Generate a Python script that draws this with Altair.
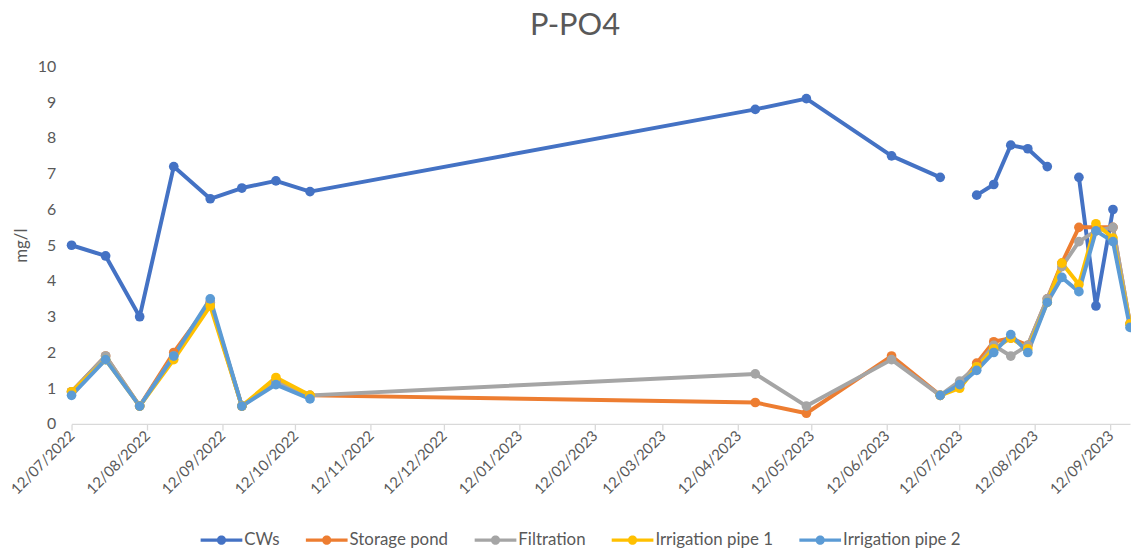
import altair as alt
import pandas as pd

DATES = [
    "2022-07-12", "2022-07-26", "2022-08-09", "2022-08-23", "2022-09-07",
    "2022-09-20", "2022-10-04", "2022-10-18", "2023-04-19", "2023-05-10",
    "2023-06-14", "2023-07-04", "2023-07-12", "2023-07-19", "2023-07-26",
    "2023-08-02", "2023-08-09", "2023-08-17", "2023-08-23", "2023-08-30",
    "2023-09-06", "2023-09-13", "2023-09-20",
]

SERIES = ["CWs", "Storage pond", "Filtration", "Irrigation pipe 1", "Irrigation pipe 2"]
COLORS = ["#4472C4", "#ED7D31", "#A5A5A5", "#FFC000", "#5B9BD5"]

CWS = [5.0, 4.7, 3.0, 7.2, 6.3, 6.6, 6.8, 6.5, 8.8, 9.1, 7.5, 6.9, None,
       6.4, 6.7, 7.8, 7.7, 7.2, None, 6.9, 3.3, 6.0, None]
STORAGE_POND = [0.9, 1.9, 0.5, 2.0, 3.4, 0.5, 1.2, 0.8, 0.6, 0.3, 1.9, 0.8, 1.1,
                1.7, 2.3, 2.4, 2.2, 3.5, 4.5, 5.5, 5.5, 5.5, 2.8]
FILTRATION = [0.9, 1.9, 0.5, 1.9, 3.4, 0.5, 1.2, 0.8, 1.4, 0.5, 1.8, 0.8, 1.2,
              1.6, 2.2, 1.9, 2.2, 3.5, 4.4, 5.1, 5.4, 5.5, 2.8]
IRRIGATION_PIPE_1 = [0.9, 1.8, 0.5, 1.8, 3.3, 0.5, 1.3, 0.8, None, None, None, 0.8, 1.0,
                     1.6, 2.1, 2.4, 2.1, 3.4, 4.5, 3.9, 5.6, 5.2, 2.8]
IRRIGATION_PIPE_2 = [0.8, 1.8, 0.5, 1.9, 3.5, 0.5, 1.1, 0.7, None, None, None, 0.8, 1.1,
                     1.5, 2.0, 2.5, 2.0, 3.4, 4.1, 3.7, 5.4, 5.1, 2.7]

TICK_DATES = [
    "2022-07-12", "2022-08-12", "2022-09-12", "2022-10-12", "2022-11-12",
    "2022-12-12", "2023-01-12", "2023-02-12", "2023-03-12", "2023-04-12",
    "2023-05-12", "2023-06-12", "2023-07-12", "2023-08-12", "2023-09-12",
]
X_DOMAIN = ["2022-07-12", "2023-09-20"]
Y_TICKS = [0, 1, 2, 3, 4, 5, 6, 7, 8, 9, 10]

FONT = "Lato"
TEXT_COLOR = "#595959"


def to_dt(s):
    y, m, d = (int(p) for p in s.split("-"))
    return alt.DateTime(year=y, month=m, date=d, utc=True)


rows = []
for k, (name, vals) in enumerate(zip(SERIES, [CWS, STORAGE_POND, FILTRATION,
                                               IRRIGATION_PIPE_1, IRRIGATION_PIPE_2])):
    for d, v in zip(DATES, vals):
        rows.append({"date": d, "value": v, "series": name, "line_series": name, "k": k})
df = pd.DataFrame(rows)

legend_symbol = ("M-1,-0.08L1,-0.08L1,0.08L-1,0.08Z "
                 "M0.22,0A0.22,0.22,0,1,1,-0.22,0A0.22,0.22,0,1,1,0.22,0Z")

x_enc = alt.X(
    "date:T",
    scale=alt.Scale(type="utc", domain=[to_dt(s) for s in X_DOMAIN]),
    axis=alt.Axis(
        title=None,
        values=[to_dt(s) for s in TICK_DATES],
        labelExpr="utcFormat(datum.value, '%d/%m/%Y')",
        labelAngle=-45,
        labelAlign="right",
        labelBaseline="middle",
        labelPadding=3,
        labelFontSize=15,
        labelColor=TEXT_COLOR,
        labelFont=FONT,
        labelOverlap=False,
        labelFlush=False,
        domainColor="#D9D9D9",
        domainWidth=1.3,
        tickColor="#D9D9D9",
        tickSize=6,
        tickWidth=1.3,
        grid=False,
    ),
)
y_enc = alt.Y(
    "value:Q",
    scale=alt.Scale(domain=[0, 10], nice=False),
    axis=alt.Axis(
        title="mg/l",
        values=Y_TICKS,
        ticks=False,
        domain=False,
        grid=False,
        labelPadding=16,
        labelFontSize=16,
        labelColor=TEXT_COLOR,
        labelFont=FONT,
        titleFont=FONT,
        titleFontSize=17,
        titleFontWeight="normal",
        titleColor=TEXT_COLOR,
        titleX=-50,
        titleY=180,
        titleAngle=270,
        titleAlign="center",
        titleBaseline="middle",
    ),
)

lines = alt.Chart(df).mark_line(
    strokeWidth=4, invalid="break-paths-filter-domains", strokeCap="round", strokeJoin="round"
).encode(
    x=x_enc,
    y=y_enc,
    stroke=alt.Stroke("line_series:N", scale=alt.Scale(domain=SERIES, range=COLORS), legend=None),
    order=alt.Order("date:T"),
)

points = alt.Chart(df).mark_circle(size=95, opacity=1).encode(
    x=x_enc,
    y=y_enc,
    color=alt.Color(
        "series:N",
        scale=alt.Scale(domain=SERIES, range=COLORS),
        legend=alt.Legend(
            title=None,
            orient="none",
            direction="horizontal",
            legendX=130,
            legendY=456,
            symbolType=legend_symbol,
            symbolSize=1764,
            symbolStrokeWidth=0,
            symbolOpacity=1,
            labelFont=FONT,
            labelFontSize=17,
            labelColor=TEXT_COLOR,
            labelOffset=2,
            columnPadding=26,
            labelLimit=300,
        ),
    ),
)

chart = alt.layer(lines, points).properties(
    width=1066,
    height=360,
    title=alt.TitleParams(
        "P-PO4",
        font=FONT,
        fontSize=31,
        fontWeight="normal",
        color=TEXT_COLOR,
        frame="group",
        anchor="middle",
        baseline="alphabetic",
        offset=32,
        dx=-26,
        dy=39,
    ),
    autosize=alt.AutoSizeParams(type="none"),
    padding={"left": 64, "top": 57, "right": 1, "bottom": 123},
).resolve_scale(color="independent", stroke="independent").configure(
    font=FONT, background="white", view=alt.ViewConfig(stroke=None)
)

chart.save("out.html", embed_options={"renderer": "svg", "actions": False})
